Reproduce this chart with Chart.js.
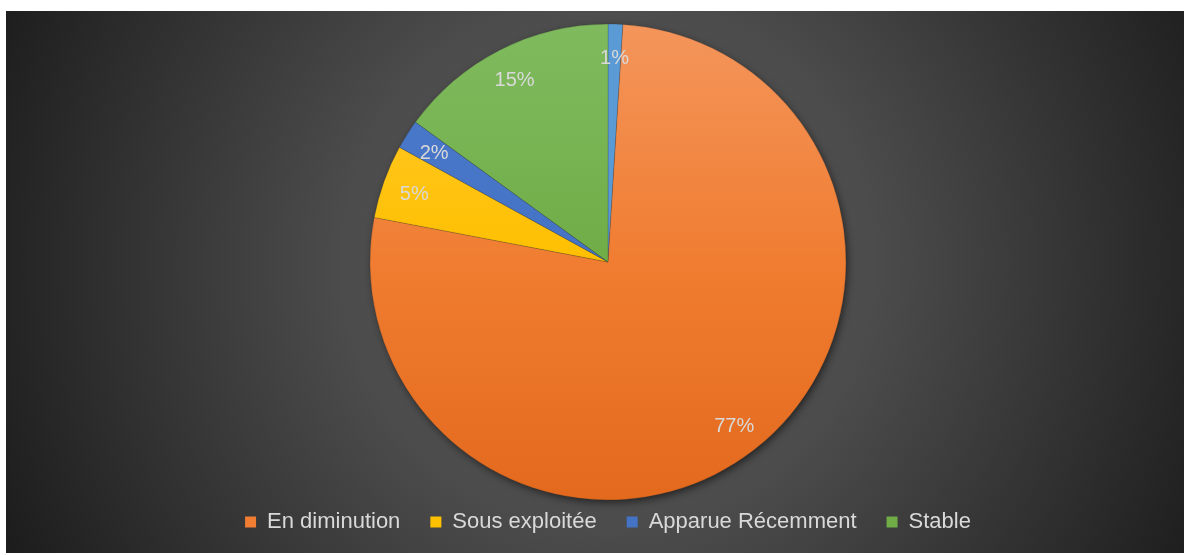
<!DOCTYPE html>
<html>
<head>
<meta charset="utf-8">
<script src="https://cdn.jsdelivr.net/npm/chart.js@4"></script>
<style>
  html, body { margin: 0; padding: 0; background: #ffffff; }
  #frame {
    position: absolute;
    left: 6px; top: 11px;
    width: 1178px; height: 542px;
  }
</style>
</head>
<body>
<div id="frame"><canvas id="pieChart"></canvas></div>
<script>
// categories and shares (%)
const categories = ['Autre', 'En diminution', 'Sous exploitée', 'Apparue Récemment', 'Stable'];
const shares = [1, 77, 5, 2, 15];
// slice colours: top, middle, bottom of the vertical shading
const sliceShades = [
    ['#62A2DC', '#5B9BD5', '#5490CC'],
    ['#F4955B', '#F07D31', '#E3691D'],
    ['#FFC932', '#FFC000', '#F2B600'],
    ['#4C7BCC', '#4472C4', '#3E69B8'],
    ['#7FBB5E', '#70AD47', '#62A038']
];
// the first category has no legend entry
const noLegend = ['Autre'];

const labelColor = '#D9D9D9';

function shade(chart, i) {
    const meta = chart.getDatasetMeta(0);
    const arc = meta.data[0];
    if (!arc || !arc.outerRadius) return sliceShades[i][1];
    const g = chart.ctx.createLinearGradient(0, arc.y - arc.outerRadius, 0, arc.y + arc.outerRadius);
    g.addColorStop(0, sliceShades[i][0]);
    g.addColorStop(0.5, sliceShades[i][1]);
    g.addColorStop(1, sliceShades[i][2]);
    return g;
}

// dark radial backdrop
const backdrop = {
    id: 'backdrop',
    beforeDraw(chart) {
        const { ctx, width, height } = chart;
        const cx = 602, cy = 251;
        const g = ctx.createRadialGradient(cx, cy, 0, cx, cy, 660);
        g.addColorStop(0, '#585858');
        g.addColorStop(0.4, '#4c4c4c');
        g.addColorStop(1, '#1d1d1d');
        ctx.save();
        ctx.fillStyle = g;
        ctx.fillRect(0, 0, width, height);
        ctx.restore();
    }
};

// soft shadow under the pie
const pieShadow = {
    id: 'pieShadow',
    beforeDatasetsDraw(chart) {
        const arc = chart.getDatasetMeta(0).data[0];
        if (!arc) return;
        const ctx = chart.ctx;
        ctx.save();
        ctx.shadowColor = 'rgba(0,0,0,0.6)';
        ctx.shadowBlur = 9;
        ctx.shadowOffsetX = 2;
        ctx.shadowOffsetY = 3;
        ctx.fillStyle = '#333333';
        ctx.beginPath();
        ctx.arc(arc.x, arc.y, arc.outerRadius - 1, 0, Math.PI * 2);
        ctx.fill();
        ctx.restore();
    }
};

// percentage labels inside the slices
const sliceLabels = {
    id: 'sliceLabels',
    afterDatasetsDraw(chart) {
        const ctx = chart.ctx;
        const meta = chart.getDatasetMeta(0);
        ctx.save();
        ctx.fillStyle = labelColor;
        ctx.font = '20px "Liberation Sans", Arial, sans-serif';
        ctx.textAlign = 'center';
        ctx.textBaseline = 'middle';
        meta.data.forEach((arc, i) => {
            const { x, y, startAngle, endAngle, outerRadius } = arc.getProps(['x', 'y', 'startAngle', 'endAngle', 'outerRadius'], true);
            const mid = (startAngle + endAngle) / 2;
            const r = outerRadius * 0.865;
            ctx.fillText(shares[i] + '%', x + Math.cos(mid) * r, y + 2 + Math.sin(mid) * r);
        });
        ctx.restore();
    }
};

const ctx = document.getElementById('pieChart').getContext('2d');

const pieChart = new Chart(ctx, {
    type: 'pie',
    data: {
        labels: categories,
        datasets: [{
            data: shares,
            backgroundColor: (c) => shade(c.chart, c.dataIndex),
            borderColor: 'rgba(40,40,40,0.35)',
            borderWidth: 0.6
        }]
    },
    options: {
        responsive: true,
        maintainAspectRatio: false,
        animation: false,
        events: [],
        radius: 238,
        layout: { padding: { top: 32, bottom: 12, left: 26, right: 0 } },
        plugins: {
            tooltip: { enabled: false },
            legend: {
                position: 'bottom',
                maxHeight: 60,
                labels: {
                    color: labelColor,
                    boxWidth: 11,
                    boxHeight: 11,
                    padding: 30,
                    font: { family: '"Liberation Sans", Arial, sans-serif', size: 22 },
                    filter: (item) => !noLegend.includes(item.text),
                    generateLabels: (chart) => categories.map((name, i) => ({
                        text: name,
                        fillStyle: sliceShades[i][1],
                        strokeStyle: sliceShades[i][1],
                        lineWidth: 0,
                        fontColor: labelColor,
                        hidden: false,
                        index: i
                    }))
                }
            }
        }
    },
    plugins: [backdrop, pieShadow, sliceLabels]
});
</script>
</body>
</html>
